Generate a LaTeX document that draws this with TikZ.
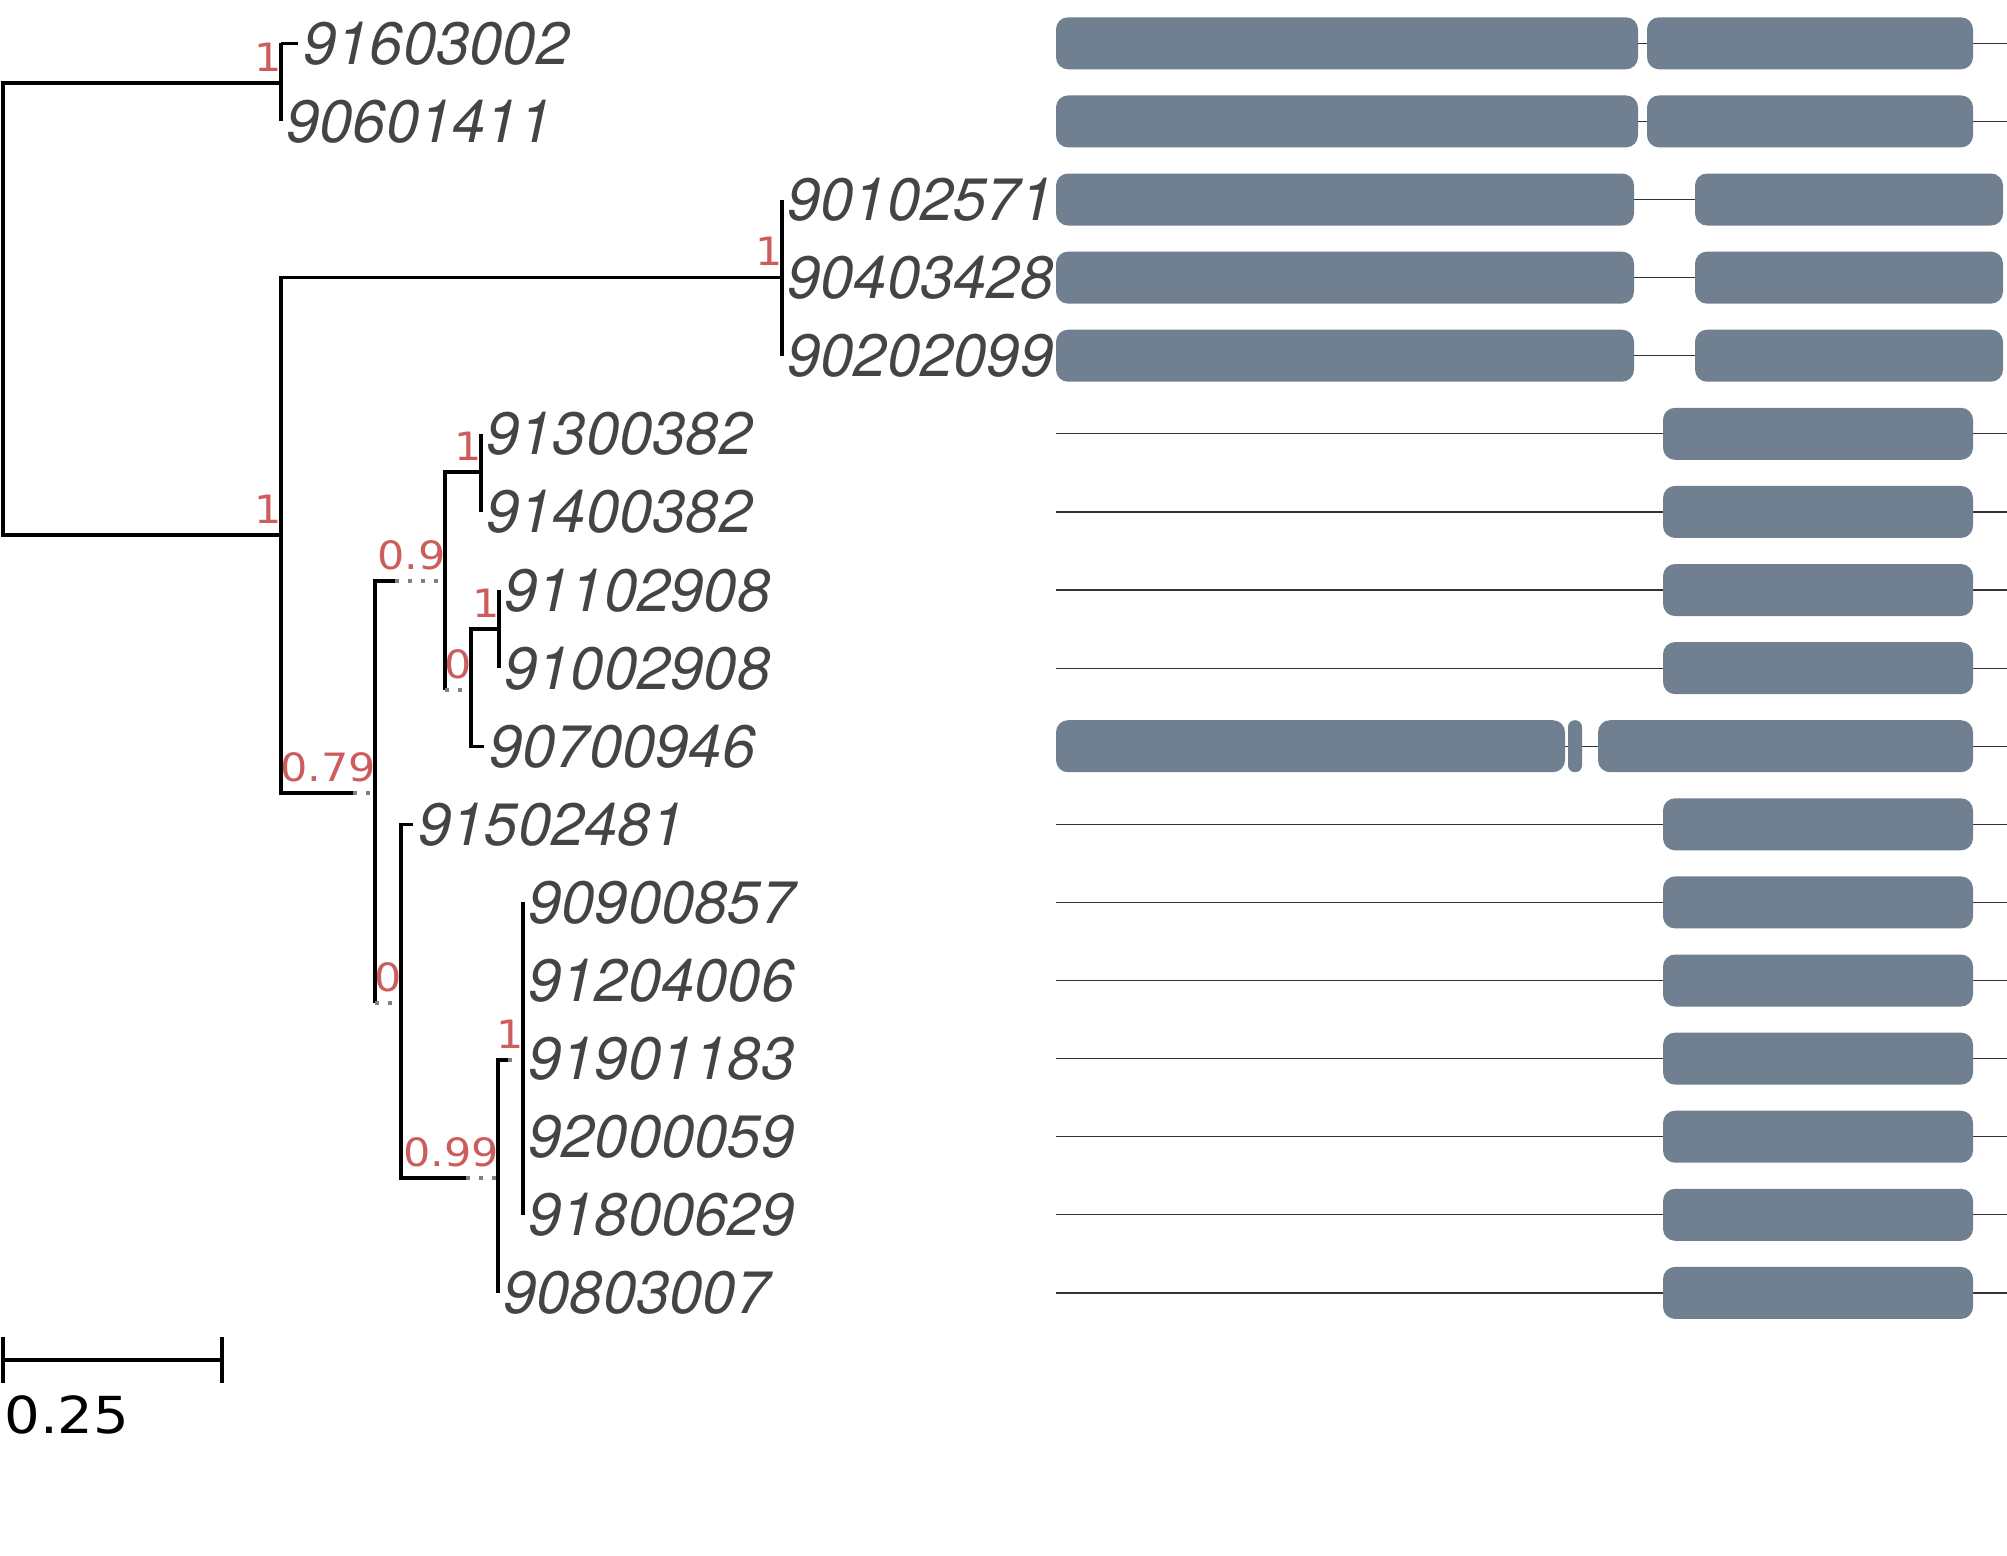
\documentclass[tikz,border=0pt]{standalone}
\usepackage{fontspec}
\newfontfamily\tipfont{TeX Gyre Heros}
\newfontfamily\suppfont{DejaVu Sans}[FakeStretch=1.1]
\definecolor{exongray}{RGB}{112,128,144}
\definecolor{suppred}{RGB}{205,92,92}
\definecolor{tipgray}{RGB}{68,68,68}
\tikzset{
	br/.style={line width=1.6pt},
	brdot/.style={gray, line width=1.6pt, dash pattern=on 2pt off 4.5pt},
	tip/.style={anchor=base west, inner sep=0pt, xshift=2.5pt, yshift=-10.5pt, text=tipgray, font=\tipfont\itshape\fontsize{29.9}{29.9}\selectfont},
	supp/.style={anchor=base east, inner sep=0pt, xshift=0.5pt, yshift=6pt, text=suppred, font=\suppfont\fontsize{19.5}{19.5}\selectfont},
	exon/.style={fill=exongray, rounded corners=6pt},
	intron/.style={line width=0.6pt, black!80},
}
\begin{document}
\begin{tikzpicture}[x=0.5pt, y=-0.5pt]
		\useasboundingbox (0,0) rectangle (2007,1555);
		
		% internal nodes
		\coordinate (nA) at (281,83);
		\coordinate (nB) at (281,535);
		\coordinate (nC) at (782,277.6);
		\coordinate (nD) at (375,793);
		\coordinate (nE) at (445,581);
		\coordinate (nF) at (401,1003);
		\coordinate (nG) at (481,472);
		\coordinate (nH) at (471,690);
		\coordinate (nI) at (499,629);
		\coordinate (nJ) at (498,1178);
		\coordinate (nK) at (523,1060);
		
		% tip ends
		\coordinate (e1) at (298,43.3);
		\coordinate (e2) at (281,121.4);
		\coordinate (e3) at (782,199.5);
		\coordinate (e4) at (782,277.6);
		\coordinate (e5) at (782,355.7);
		\coordinate (e6) at (481,433.8);
		\coordinate (e7) at (481,511.9);
		\coordinate (e8) at (499,590);
		\coordinate (e9) at (499,668.1);
		\coordinate (e10) at (484,746.2);
		\coordinate (e11) at (413,824.3);
		\coordinate (e12) at (523,902.4);
		\coordinate (e13) at (523,980.5);
		\coordinate (e14) at (523,1058.6);
		\coordinate (e15) at (523,1136.7);
		\coordinate (e16) at (523,1214.8);
		\coordinate (e17) at (498,1292.9);
		
		% root
		\draw[br] (nA) -| (3,535) -- (nB);
		% clade A
		\draw[br] (nA |- e1) -- (nA |- e2);
		\draw[br] (nA |- e1) -- (e1);
		% clade B
		\draw[br] (nC) -| (nB |- nD) -- (353,793);
		\draw[brdot] (353,793) -- (nD);
		% clade C
		\draw[br] (nC |- e3) -- (nC |- e5);
		% clade D
		\draw[br] (395,581) -- (nD |- nE) -- (nD |- nF);
		\draw[brdot] (395,581) -- (nE);
		\draw[brdot] (nD |- nF) -- (nF);
		% clade E
		\draw[br] (nG) -| (nE |- nH);
		\draw[brdot] (nE |- nH) -- (nH);
		\draw[br] (nG |- e6) -- (nG |- e7);
		% clade H
		\draw[br] (nI) -| (nH |- e10) -- (e10);
		\draw[br] (nI |- e8) -- (nI |- e9);
		% clade F
		\draw[br] (e11) -| (nF |- nJ) -- (466,1178);
		\draw[brdot] (466,1178) -- (nJ);
		% clade J
		\draw[br] (508,1060) -| (nJ |- e17);
		\draw[brdot] (508,1060) -- (nK);
		\draw[br] (nK |- e12) -- (nK |- e16);
		
		% support values
		\node[supp] (bA) at (nA) {1};
		\node[supp] (bB) at (nB) {1};
		\node[supp] (bC) at (nC) {1};
		\node[supp] (bD) at (nD) {0.79};
		\node[supp] (bE) at (nE) {0.9};
		\node[supp] (bF) at (nF) {0};
		\node[supp] (bG) at (nG) {1};
		\node[supp] (bH) at (nH) {0};
		\node[supp] (bI) at (nI) {1};
		\node[supp] (bJ) at (nJ) {0.99};
		\node[supp] (bK) at (nK) {1};
		
		% tip labels
		\node[tip] (s91603002) at (e1) {91603002};
		\node[tip] (s90601411) at (e2) {90601411};
		\node[tip] (s90102571) at (e3) {90102571};
		\node[tip] (s90403428) at (e4) {90403428};
		\node[tip] (s90202099) at (e5) {90202099};
		\node[tip] (s91300382) at (e6) {91300382};
		\node[tip] (s91400382) at (e7) {91400382};
		\node[tip] (s91102908) at (e8) {91102908};
		\node[tip] (s91002908) at (e9) {91002908};
		\node[tip] (s90700946) at (e10) {90700946};
		\node[tip] (s91502481) at (e11) {91502481};
		\node[tip] (s90900857) at (e12) {90900857};
		\node[tip] (s91204006) at (e13) {91204006};
		\node[tip] (s91901183) at (e14) {91901183};
		\node[tip] (s92000059) at (e15) {92000059};
		\node[tip] (s91800629) at (e16) {91800629};
		\node[tip] (s90803007) at (e17) {90803007};
		
		% scale bar
		\draw[line width=1.7pt] (3,1360) -- (222,1360);
		\draw[line width=1.7pt] (3,1337) -- (3,1383);
		\draw[line width=1.7pt] (222,1337) -- (222,1383);
		\node[anchor=base west, inner sep=0pt, font=\suppfont\fontsize{25.5}{25.5}\selectfont] (sbar) at (4,1433) {0.25};
		
		% gene structures, rows 1-2
		\draw[intron] (1630,43.3) -- (2007,43.3);
		\fill[exon] (1056,17.3) rectangle (1638,69.3);
		\fill[exon] (1647,17.3) rectangle (1973,69.3);
		\draw[intron] (1630,121.4) -- (2007,121.4);
		\fill[exon] (1056,95.4) rectangle (1638,147.4);
		\fill[exon] (1647,95.4) rectangle (1973,147.4);
		
		% rows 3-5
		\draw[intron] (1630,199.5) -- (1700,199.5);
		\fill[exon] (1056,173.5) rectangle (1634,225.5);
		\fill[exon] (1695,173.5) rectangle (2003,225.5);
		\draw[intron] (1630,277.6) -- (1700,277.6);
		\fill[exon] (1056,251.6) rectangle (1634,303.6);
		\fill[exon] (1695,251.6) rectangle (2003,303.6);
		\draw[intron] (1630,355.7) -- (1700,355.7);
		\fill[exon] (1056,329.7) rectangle (1634,381.7);
		\fill[exon] (1695,329.7) rectangle (2003,381.7);
		
		% rows 6-9
		\draw[intron] (1056,433.8) -- (2007,433.8);
		\fill[exon] (1663,407.8) rectangle (1973,459.8);
		\draw[intron] (1056,511.9) -- (2007,511.9);
		\fill[exon] (1663,485.9) rectangle (1973,537.9);
		\draw[intron] (1056,590) -- (2007,590);
		\fill[exon] (1663,564) rectangle (1973,616);
		\draw[intron] (1056,668.1) -- (2007,668.1);
		\fill[exon] (1663,642.1) rectangle (1973,694.1);
		
		% row 10
		\draw[intron] (1560,746.2) -- (2007,746.2);
		\fill[exon] (1056,720.2) rectangle (1565,772.2);
		\fill[exongray, rounded corners=3.4pt] (1568,720.2) rectangle (1582,772.2);
		\fill[exon] (1598,720.2) rectangle (1973,772.2);
		
		% rows 11-17
		\draw[intron] (1056,824.3) -- (2007,824.3);
		\fill[exon] (1663,798.3) rectangle (1973,850.3);
		\draw[intron] (1056,902.4) -- (2007,902.4);
		\fill[exon] (1663,876.4) rectangle (1973,928.4);
		\draw[intron] (1056,980.5) -- (2007,980.5);
		\fill[exon] (1663,954.5) rectangle (1973,1006.5);
		\draw[intron] (1056,1058.6) -- (2007,1058.6);
		\fill[exon] (1663,1032.6) rectangle (1973,1084.6);
		\draw[intron] (1056,1136.7) -- (2007,1136.7);
		\fill[exon] (1663,1110.7) rectangle (1973,1162.7);
		\draw[intron] (1056,1214.8) -- (2007,1214.8);
		\fill[exon] (1663,1188.8) rectangle (1973,1240.8);
		\draw[intron] (1056,1292.9) -- (2007,1292.9);
		\fill[exon] (1663,1266.9) rectangle (1973,1318.9);
		
	\end{tikzpicture}
\end{document}
